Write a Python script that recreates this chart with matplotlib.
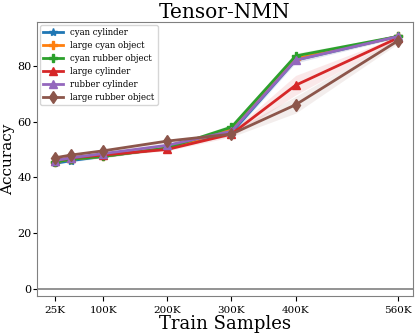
import matplotlib.pyplot as plt
import numpy as np

plt.rcParams['font.family'] = 'DejaVu Serif'

samples = [25, 50, 100, 200, 300, 400, 560]
tick_pos = [25, 100, 200, 300, 400, 560]
tick_labels = ["25K", "100K", "200K", "300K", "400K", "560K"]

names = ["cyan cylinder", "large cyan object", "cyan rubber object",
         "large cylinder", "rubber cylinder", "large rubber object"]
means = [
    [45.0, 46.0, 47.5, 50.5, 56.0, 82.0, 90.5],
    [45.5, 46.5, 47.5, 50.5, 57.0, 82.5, 90.5],
    [45.5, 46.5, 47.5, 50.5, 58.0, 83.5, 90.5],
    [46.0, 47.0, 48.0, 50.0, 55.5, 73.0, 90.0],
    [46.0, 47.0, 48.5, 51.5, 56.5, 82.0, 90.5],
    [47.0, 48.0, 49.5, 53.0, 55.5, 66.0, 89.0],
]
stds = [
    [0.5, 0.5, 0.5, 0.5, 1.0, 1.0, 0.5],
    [0.5, 0.5, 0.5, 0.5, 1.0, 1.0, 0.5],
    [0.5, 0.5, 0.5, 0.5, 1.0, 1.0, 0.5],
    [0.5, 0.5, 0.5, 0.5, 1.0, 3.5, 0.5],
    [0.5, 0.5, 0.5, 0.5, 1.0, 1.0, 0.5],
    [0.5, 0.5, 0.5, 0.5, 1.0, 3.0, 1.0],
]
markers = ["*", "P", "P", "^", "^", "d"]
colors = ["tab:blue", "tab:orange", "tab:green", "tab:red", "tab:purple", "tab:brown"]

fig = plt.figure(figsize=(4.16, 3.36), dpi=100)
ax = fig.add_axes([0.089, 0.119, 0.904, 0.816])

for name, m, s, mk, c in zip(names, means, stds, markers, colors):
    m = np.array(m)
    s = np.array(s)
    ax.plot(samples, m, marker=mk, color=c, label=name, linewidth=2.0, markersize=6)
    ax.fill_between(samples, m - s, m + s, color=c, alpha=0.1, linewidth=0)

ax.axhline(0, color="gray", linewidth=1.2)
ax.set_xlim(-3, 583)
ax.set_ylim(-2.5, 95.7)
ax.set_xticks(tick_pos)
ax.set_xticklabels(tick_labels, fontsize=7.5)
ax.set_yticks([0, 20, 40, 60, 80])
ax.tick_params(axis="y", labelsize=8, pad=1, length=3)
for sp in ax.spines.values():
    sp.set_color("gray")

ax.set_title("Tensor-NMN", fontsize=14.5, pad=3)
ax.set_xlabel("Train Samples", fontsize=13, labelpad=0)
# y label placed by hand so it stays inside the small figure
fig.text(0.002, 0.527, "Accuracy", rotation=90, ha="left", va="center", fontsize=11)
ax.legend(loc="upper left", fontsize=6.2, handlelength=2.3, borderaxespad=0.35,
          labelspacing=0.45)

fig.savefig("out.png", dpi=100)
